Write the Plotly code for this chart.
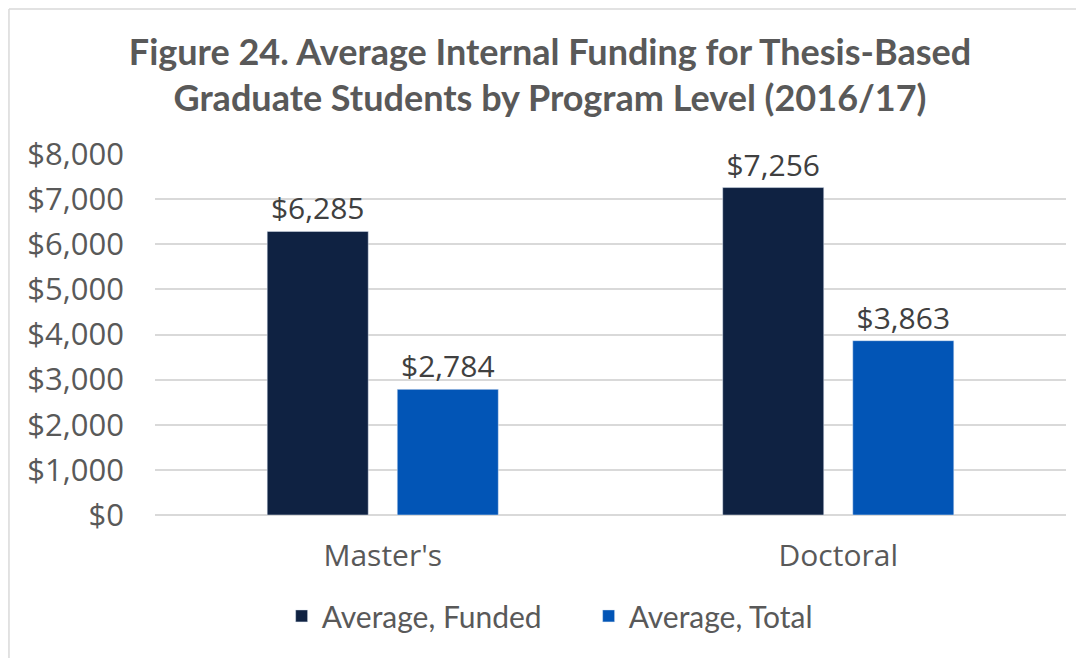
import plotly.graph_objects as go

# data
categories = ["Master's", "Doctoral"]
funded = [6285, 7256]
total = [2784, 3863]
y_ticks = [0, 1000, 2000, 3000, 4000, 5000, 6000, 7000, 8000]
y_tick_labels = ["$0", "$1,000", "$2,000", "$3,000", "$4,000", "$5,000", "$6,000", "$7,000", "$8,000"]

grey = "#595959"
tick_font = "Open Sans, DejaVu Sans, sans-serif"

fig = go.Figure()

fig.add_trace(go.Bar(
    x=categories, y=funded,
    name="Average, Funded",
    marker_color="#0f2242",
    text=["${:,}".format(v) for v in funded],
    textposition="outside",
    cliponaxis=False,
    textfont=dict(size=30, color="#404040", family=tick_font),
))
fig.add_trace(go.Bar(
    x=categories, y=total,
    name="Average, Total",
    marker_color="#0255b6",
    text=["${:,}".format(v) for v in total],
    textposition="outside",
    cliponaxis=False,
    textfont=dict(size=30, color="#404040", family=tick_font),
))

fig.update_layout(
    width=1084, height=658,
    margin=dict(l=147, r=26, t=146, b=151, autoexpand=False),
    plot_bgcolor="white",
    paper_bgcolor="white",
    barmode="group",
    bargap=0.429,
    bargroupgap=0.223,
    title=dict(
        text="<b>Figure 24. Average Internal Funding for Thesis-Based<br>Graduate Students by Program Level (2016/17)</b>",
        x=0.5, xanchor="center",
        y=0.914, yanchor="middle",
        font=dict(family="Lato, sans-serif", size=36, color=grey),
    ),
    legend=dict(
        orientation="h",
        x=0.139, xanchor="left",
        y=-0.2795, yanchor="middle",
        font=dict(family="Lato, sans-serif", size=30, color=grey),
        itemwidth=30,
        entrywidth=262, entrywidthmode="pixels",
    ),
)

fig.update_yaxes(
    range=[0, 8000],
    tickvals=y_ticks,
    ticktext=y_tick_labels,
    showgrid=True, gridcolor="#d9d9d9", gridwidth=1.5,
    zeroline=True, zerolinecolor="#d9d9d9", zerolinewidth=1.5,
    tickfont=dict(family=tick_font, size=31, color=grey),
    ticks="", ticklabelstandoff=30,
    automargin=False,
)
fig.update_xaxes(
    tickfont=dict(family=tick_font, size=30, color=grey),
    showline=False,
    ticklabelstandoff=20,
    automargin=False,
)

# outer chart border (top and left edges visible)
fig.add_shape(type="line", xref="paper", yref="paper",
              x0=-0.1603, x1=1.05, y0=1.4017, y1=1.4017,
              line=dict(color="#d9d9d9", width=1.5))
fig.add_shape(type="line", xref="paper", yref="paper",
              x0=-0.1603, x1=-0.1603, y0=1.4017, y1=-0.5,
              line=dict(color="#d9d9d9", width=1.5))

fig.write_html("out.html")
